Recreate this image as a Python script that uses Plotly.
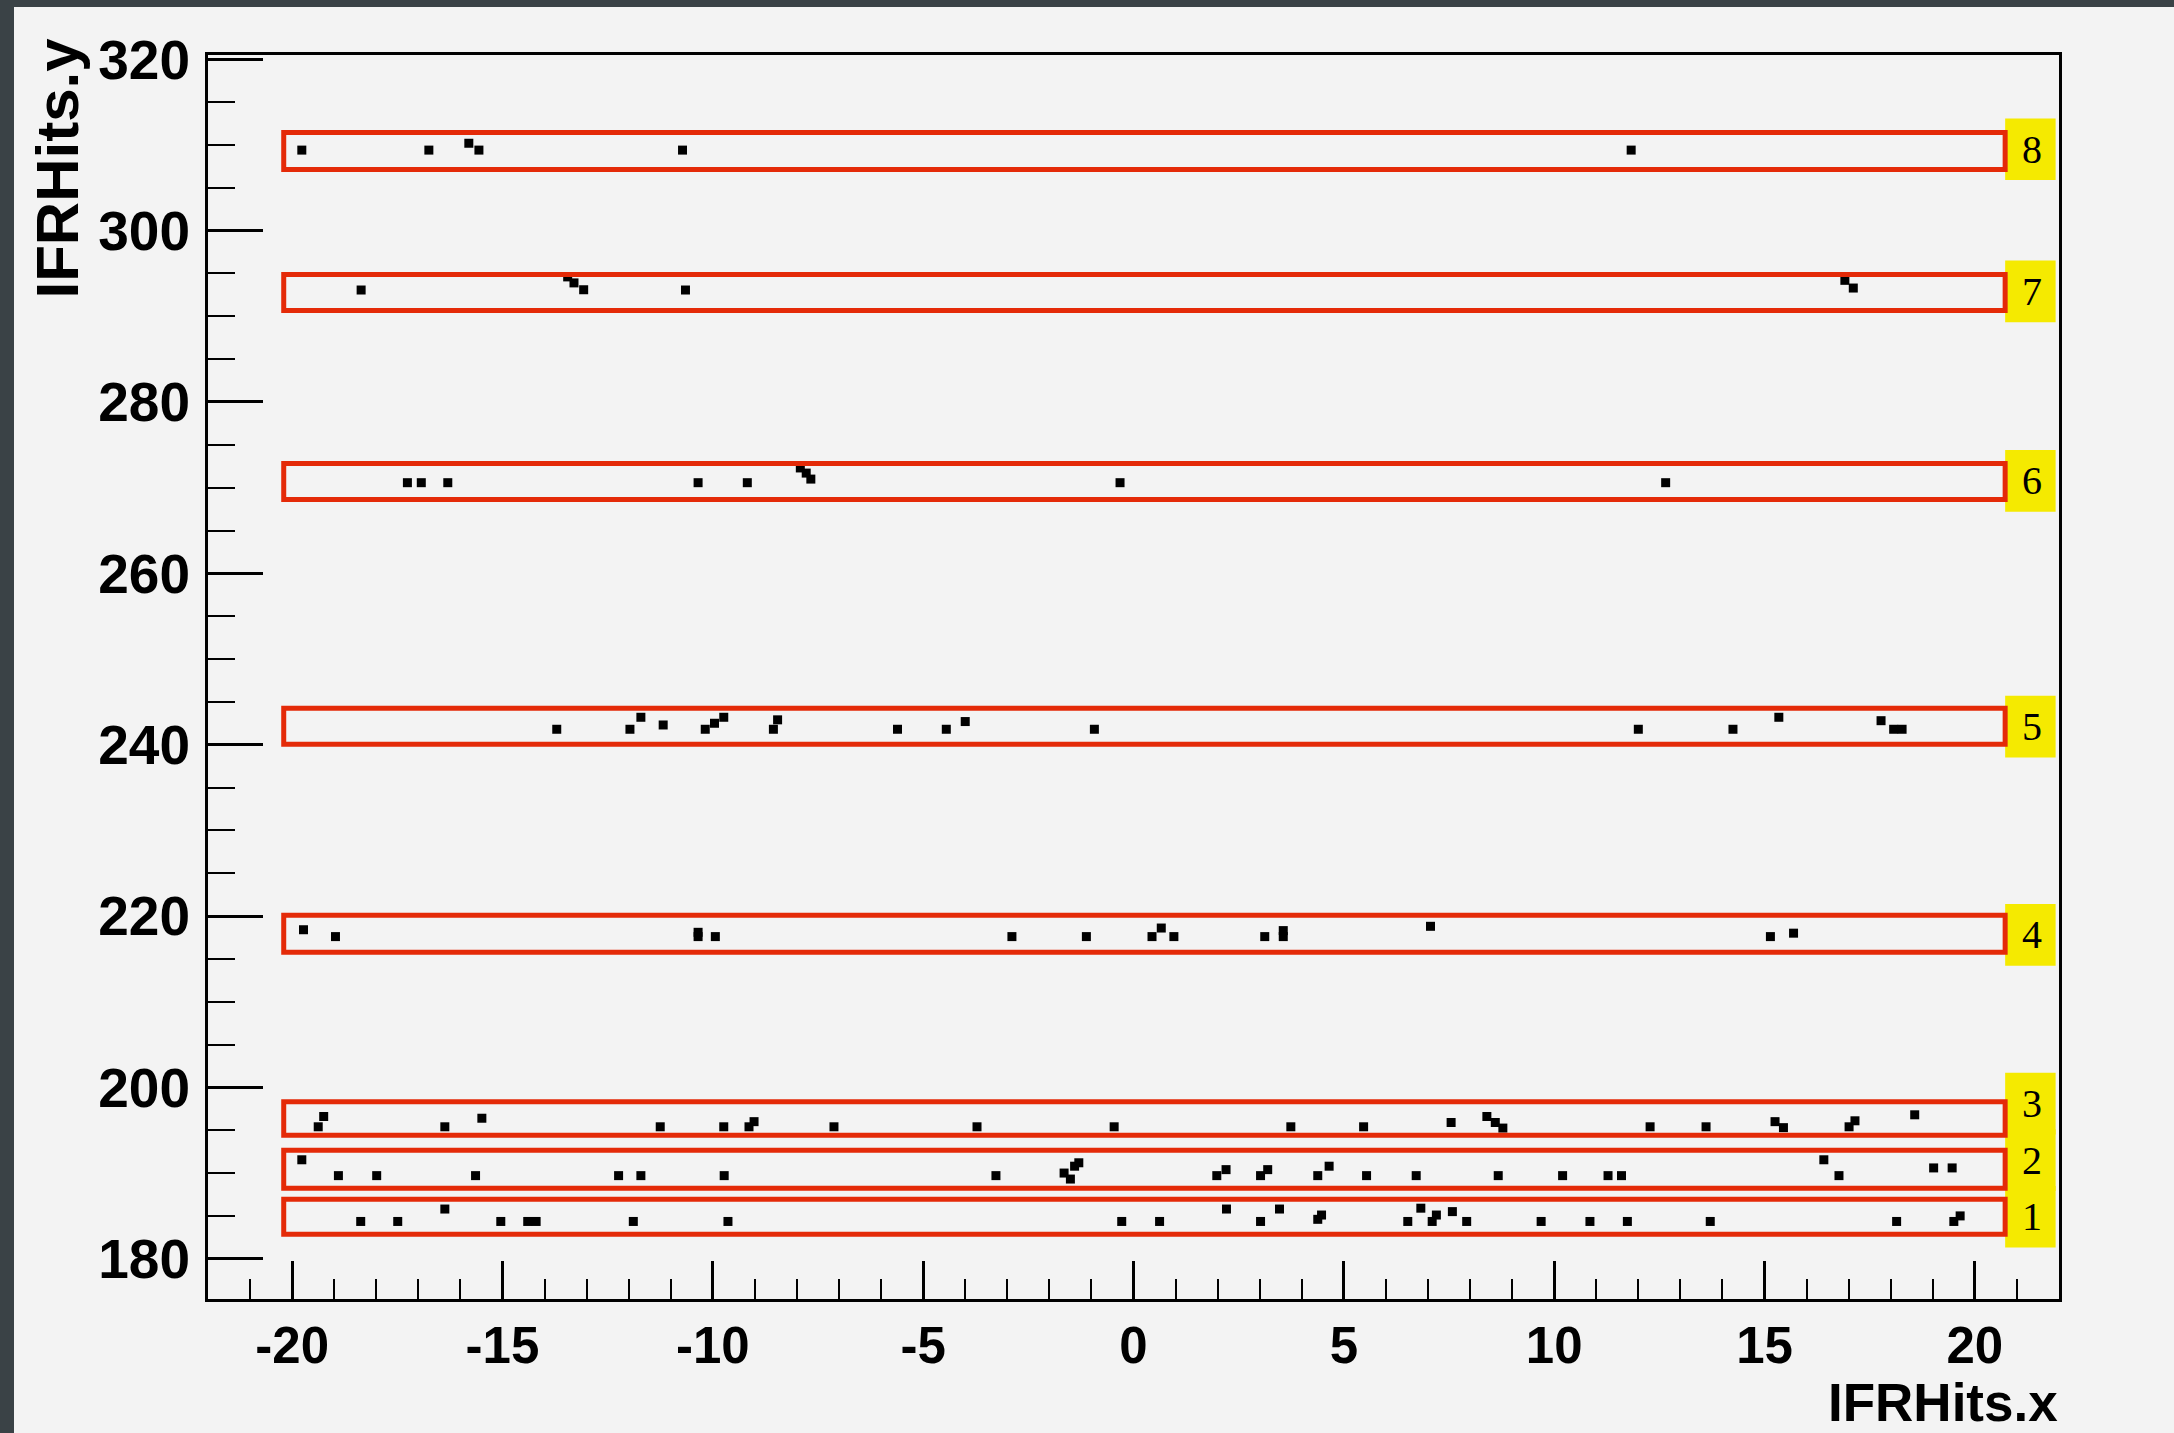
import plotly.graph_objects as go

# ---------------- data ----------------
# strip (layer) boundaries in IFRHits.y units
layer_names = ["1", "2", "3", "4", "5", "6", "7", "8"]
layer_lo = [182.86, 188.23, 194.41, 215.76, 240.04, 268.62, 290.68, 307.13]
layer_hi = [186.94, 192.66, 198.32, 220.08, 244.24, 272.82, 294.88, 311.45]
label_y = [184.9, 191.5, 198.1, 217.8, 242.1, 270.8, 292.9, 309.5]
strip_x0 = -20.20
strip_x1 = 20.72

# hits, per layer
l1_x = [-18.37, -17.49, -16.37, -15.04, -14.40, -14.20, -11.89, -9.64, -0.28, 0.62,
        2.21, 3.02, 3.47, 4.38, 4.47, 6.52, 6.83, 7.10, 7.20, 7.58, 7.92,
        9.69, 10.85, 11.74, 13.71, 18.14, 19.50, 19.65]
l1_y = [184.35, 184.35, 185.8, 184.35, 184.35, 184.35, 184.35, 184.35, 184.35, 184.35,
        185.8, 184.35, 185.8, 184.6, 185.1, 184.35, 185.9, 184.35, 185.1, 185.5, 184.35,
        184.35, 184.35, 184.35, 184.35, 184.35, 184.35, 185.0]

l2_x = [-19.77, -18.90, -17.99, -15.64, -12.24, -11.71, -9.73, -3.27,
        -1.65, -1.50, -1.40, -1.30, 1.98, 2.20, 3.02, 3.19, 4.38, 4.65,
        5.54, 6.72, 8.67, 10.20, 11.28, 11.60, 16.41, 16.77, 19.02, 19.46]
l2_y = [191.55, 189.7, 189.7, 189.7, 189.7, 189.7, 189.7, 189.7,
        190.0, 189.3, 190.8, 191.2, 189.7, 190.4, 189.7, 190.4, 189.7, 190.8,
        189.7, 189.7, 189.7, 189.7, 189.7, 189.7, 191.55, 189.7, 190.6, 190.6]

l3_x = [-19.38, -19.25, -16.37, -15.49, -11.25, -9.74, -9.14, -9.02, -7.12, -3.72,
        -0.46, 3.74, 5.47, 7.55, 8.40, 8.60, 8.78, 12.28, 13.61, 15.25, 15.45,
        17.01, 17.15, 18.57]
l3_y = [195.4, 196.6, 195.4, 196.4, 195.4, 195.4, 195.4, 196.0, 195.4, 195.4,
        195.4, 195.4, 195.4, 195.9, 196.6, 195.9, 195.25, 195.4, 195.4, 196.0, 195.3,
        195.4, 196.1, 196.8]

l4_x = [-19.73, -18.97, -10.35, -10.35, -9.94, -2.89, -1.12, 0.44, 0.66, 0.96,
        3.12, 3.56, 3.56, 7.06, 15.14, 15.69]
l4_y = [218.4, 217.6, 217.6, 218.1, 217.6, 217.6, 217.6, 217.6, 218.6, 217.6,
        217.6, 217.6, 218.3, 218.8, 217.6, 218.0]

l5_x = [-13.71, -11.97, -11.71, -11.18, -10.18, -9.96, -9.74, -8.56, -8.46, -5.61,
        -4.45, -4.00, -0.93, 12.00, 14.25, 15.34, 17.77, 18.07, 18.27]
l5_y = [241.8, 241.8, 243.2, 242.3, 241.8, 242.5, 243.2, 241.8, 242.9, 241.8,
        241.8, 242.7, 241.8, 241.8, 241.8, 243.2, 242.8, 241.8, 241.8]

l6_x = [-17.26, -16.93, -16.30, -10.35, -9.18, -7.92, -7.78, -7.67, -0.32, 12.65]
l6_y = [270.58, 270.58, 270.58, 270.58, 270.58, 272.3, 271.7, 271.0, 270.58, 270.58]

l7_x = [-18.36, -13.45, -13.30, -13.07, -10.65, 16.91, 17.11]
l7_y = [293.07, 294.6, 293.9, 293.1, 293.07, 294.2, 293.3]

l8_x = [-19.77, -16.75, -15.80, -15.56, -10.72, 11.83]
l8_y = [309.4, 309.4, 310.2, 309.4, 309.4, 309.4]

hits_x = l1_x + l2_x + l3_x + l4_x + l5_x + l6_x + l7_x + l8_x
hits_y = l1_y + l2_y + l3_y + l4_y + l5_y + l6_y + l7_y + l8_y

x_ticks = [-20, -15, -10, -5, 0, 5, 10, 15, 20]
y_ticks = [180, 200, 220, 240, 260, 280, 300, 320]

# ---------------- layout geometry ----------------
W, H = 2174, 1433
ML, MR, MT, MB = 208, 115, 55, 134
PW, PH = W - ML - MR, H - MT - MB


def px(x):
    return (x - ML) / PW


def py(y):
    return (H - MB - y) / PH


BG = "#f3f3f3"
DARK = "#3a4246"
RED = "#e42a08"
YEL = "#f5ea00"

fig = go.Figure()
fig.add_trace(go.Scatter(
    x=hits_x, y=hits_y, mode="markers",
    marker=dict(symbol="square", size=9, color="black", line=dict(width=0)),
    hoverinfo="x+y", showlegend=False,
))

shapes = []
# dark surround (top and left)
shapes.append(dict(type="rect", xref="paper", yref="paper", x0=px(0), x1=px(W),
                   y0=py(7), y1=py(0), fillcolor=DARK, line=dict(width=0), layer="below"))
shapes.append(dict(type="rect", xref="paper", yref="paper", x0=px(0), x1=px(14),
                   y0=py(H), y1=py(0), fillcolor=DARK, line=dict(width=0), layer="below"))

annotations = []
box_h = 7.2
for name, lo, hi, ly in zip(layer_names, layer_lo, layer_hi, label_y):
    # yellow label box
    shapes.append(dict(type="rect", xref="x", yref="y", x0=strip_x1, x1=21.92,
                       y0=ly - box_h / 2, y1=ly + box_h / 2,
                       fillcolor=YEL, line=dict(width=0), layer="above"))
for name, lo, hi, ly in zip(layer_names, layer_lo, layer_hi, label_y):
    shapes.append(dict(type="rect", xref="x", yref="y", x0=strip_x0, x1=strip_x1,
                       y0=lo, y1=hi, line=dict(color=RED, width=5), layer="above"))
    annotations.append(dict(x=21.35, y=ly, xref="x", yref="y", text=name,
                            showarrow=False, xanchor="center", yanchor="middle",
                            font=dict(family="Liberation Serif", size=40, color="black")))

annotations.append(dict(x=1.0, y=py(1433), xref="paper", yref="paper", text="IFRHits.x",
                        showarrow=False, xanchor="right", yanchor="bottom", borderpad=0,
                        font=dict(family="Liberation Sans", size=53, color="black", weight="bold")))
annotations.append(dict(x=px(57), y=py(36), xref="paper", yref="paper", text="IFRHits.y",
                        showarrow=False, xanchor="center", yanchor="top", textangle=-90,
                        font=dict(family="Liberation Sans", size=60, color="black", weight="bold")))

fig.update_layout(
    width=W, height=H,
    margin=dict(l=ML, r=MR, t=MT, b=MB, pad=0),
    paper_bgcolor=BG, plot_bgcolor=BG,
    shapes=shapes, annotations=annotations,
    showlegend=False,
)
fig.update_xaxes(
    range=[-22, 22], tickvals=x_ticks, ticktext=[str(v) for v in x_ticks],
    ticks="inside", ticklen=38, tickwidth=2.5, tickcolor="black",
    minor=dict(dtick=1, ticks="inside", ticklen=20, tickwidth=2, tickcolor="black", showgrid=False),
    showgrid=False, zeroline=False, showline=True, linewidth=3, linecolor="black", mirror=True,
    tickfont=dict(family="Liberation Sans", size=51, color="black", weight="bold"),
    ticklabelstandoff=0,
)
fig.update_yaxes(
    range=[175.3, 320.5], tickvals=y_ticks, ticktext=[str(v) for v in y_ticks],
    ticks="inside", ticklen=55, tickwidth=2.5, tickcolor="black",
    minor=dict(dtick=5, ticks="inside", ticklen=27, tickwidth=2, tickcolor="black", showgrid=False),
    showgrid=False, zeroline=False, showline=True, linewidth=3, linecolor="black", mirror=True,
    tickfont=dict(family="Liberation Sans", size=55, color="black", weight="bold"),
    ticklabelstandoff=4,
)

fig.write_html("out.html")
